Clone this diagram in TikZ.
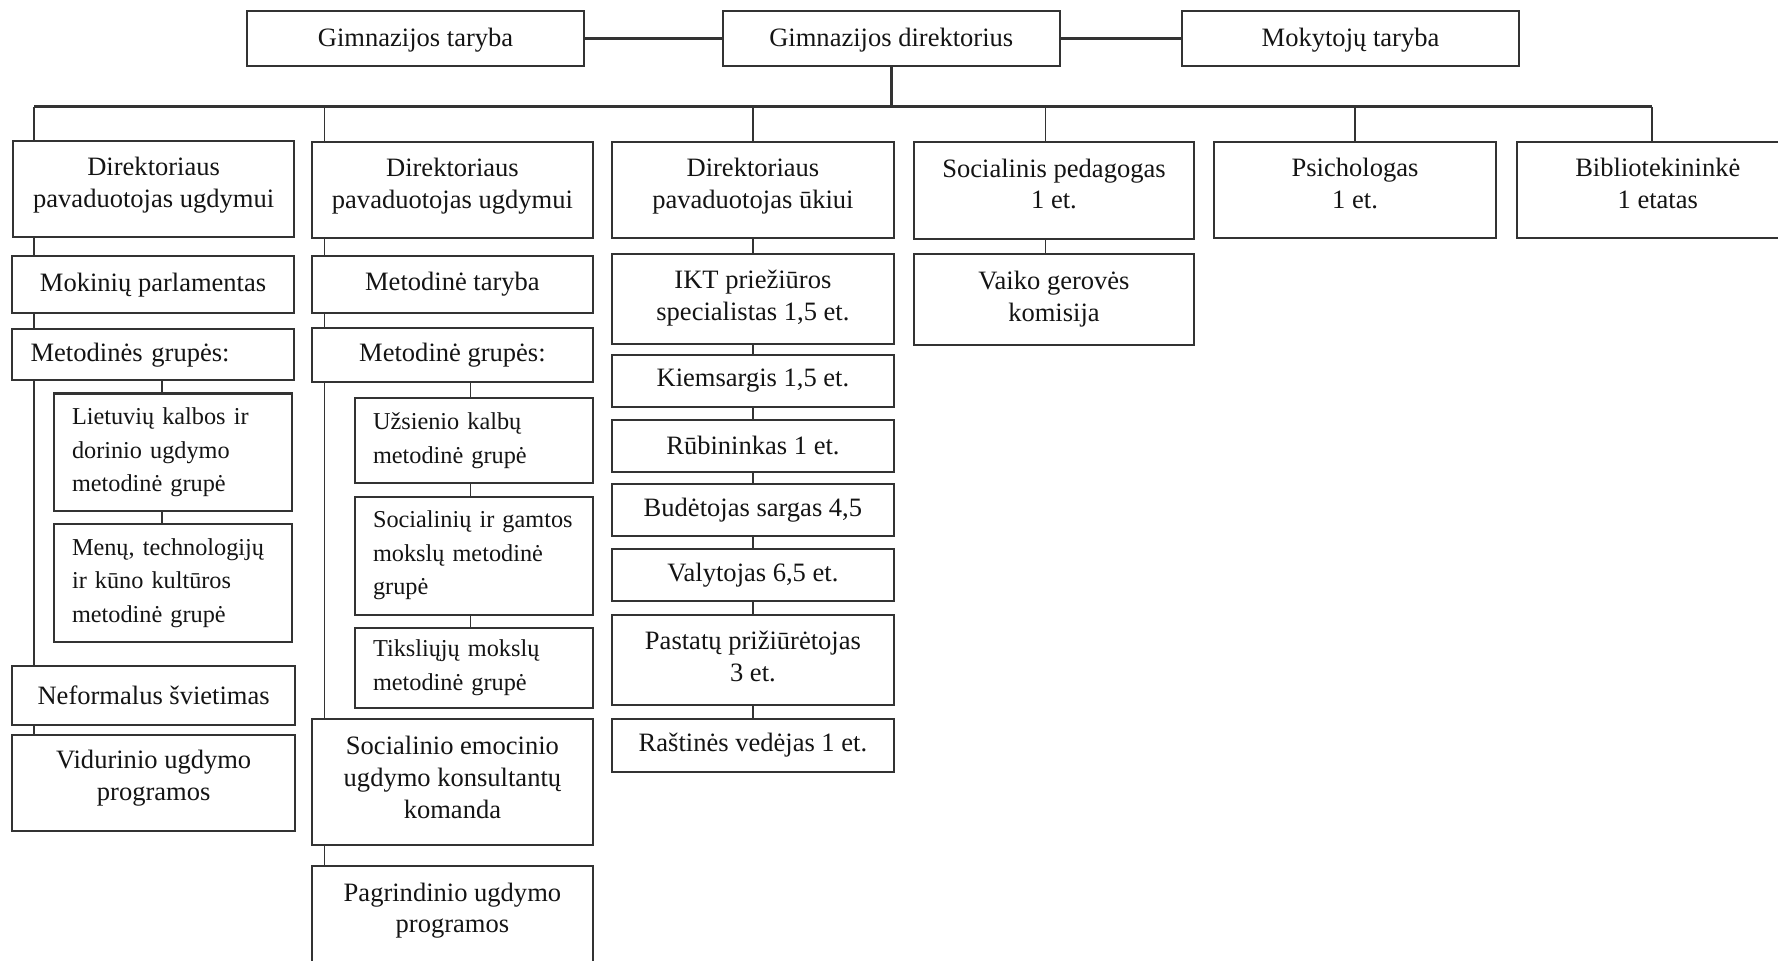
\documentclass[tikz,border=0pt]{standalone}
\usepackage{fontspec}
\setmainfont{Liberation Serif}
\definecolor{ln}{HTML}{333333}
\definecolor{tx}{HTML}{141414}
\begin{document}
\begin{tikzpicture}[x=0.5pt,y=-0.5pt,
  bx/.style={draw=ln, line width=0.9pt, fill=white, inner sep=0pt, align=center,
    text=tx, font=\fontsize{11.7}{14}\selectfont},
  hd/.style={bx, minimum width=124pt, minimum height=42.5pt, text depth=6pt},
  sb/.style={draw=ln, line width=0.9pt, fill=white, inner xsep=8pt, inner ysep=0pt,
    align=left, text=tx, text width=89pt, font=\fontsize{10.7}{14.75}\selectfont},
  cn/.style={draw=ln, line width=0.6pt},
  tk/.style={draw=ln, line width=1.6pt},
  busl/.style={draw=ln, line width=1.1pt}]
\clip (0,0) rectangle (1568,847);
\fill[white] (0,0) rectangle (1568,847);

% top row
\node[bx, minimum width=148.5pt, minimum height=24pt, text depth=1.5pt] (gt) at (366.5,34) {Gimnazijos taryba};
\node[bx, minimum width=148.5pt, minimum height=24pt, text depth=1.5pt] (gd) at (786,34) {Gimnazijos direktorius};
\node[bx, minimum width=148.5pt, minimum height=24pt, text depth=1.5pt] (mt) at (1191,34) {Mokytojų taryba};
\draw[tk] (gt.east) -- (gd.west);
\draw[tk] (gd.east) -- (mt.west);

% bus coordinates
\coordinate (b1) at (30,94);
\coordinate (b2) at (286,94);
\coordinate (b3) at (664,94);
\coordinate (b4) at (922,94);
\coordinate (b5) at (1195,94);
\coordinate (b6) at (1457,94);
\coordinate (s1) at (143,0);
\coordinate (s2) at (415,0);

% heads
\node[hd] (h1) at (135.5,166.5) {Direktoriaus\\pavaduotojas ugdymui};
\node[hd] (h2) at (399,167.5) {Direktoriaus\\pavaduotojas ugdymui};
\node[hd] (h3) at (664,167.5) {Direktoriaus\\pavaduotojas ūkiui};
\node[hd, minimum width=123.5pt, minimum height=43pt] (h4) at (929.5,168) {Socialinis pedagogas\\1 et.};
\node[hd] (h5) at (1195,167.5) {Psichologas\\1 et.};
\node[hd] (h6) at (1462,167.5) {Bibliotekininkė\\1 etatas};

\draw[busl] (gd.south) -- (gd.south |- b1);
\draw[busl] (b1) -- (b6);
\draw[cn] (b1) -- (h1.north -| b1);
\draw[cn] (b2) -- (h2.north -| b2);
\draw[cn] (b3) -- (h3.north -| b3);
\draw[cn] (b4) -- (h4.north -| b4);
\draw[cn] (b5) -- (h5.north -| b5);
\draw[cn] (b6) -- (h6.north -| b6);

% column 1
\node[bx, minimum width=124pt, minimum height=25pt] (mp) at (135,251) {Mokinių parlamentas};
\node[bx, minimum width=124pt, minimum height=22.5pt, inner xsep=8pt, text width=108pt, align=left, text depth=1.5pt] (mg) at (135,312.5) {Metodinės grupės:};
\node[sb, minimum height=52pt] (lk) at (152.5,399) {Lietuvių kalbos ir\\dorinio ugdymo\\metodinė grupė};
\node[sb, minimum height=52pt] (mn) at (152.5,514) {Menų, technologijų\\ir kūno kultūros\\metodinė grupė};
\node[bx, minimum width=124.5pt, minimum height=26pt] (nf) at (135.5,613) {Neformalus švietimas};
\node[bx, minimum width=124.5pt, minimum height=42.5pt, text depth=7pt] (vu) at (135.5,690.5) {Vidurinio ugdymo\\programos};
\draw[cn] (h1.south -| b1) -- (mp.north -| b1);
\draw[cn] (mp.south -| b1) -- (mg.north -| b1);
\draw[cn] (mg.south -| b1) -- (nf.north -| b1);
\draw[cn] (nf.south -| b1) -- (vu.north -| b1);
\draw[cn] (mg.south -| s1) -- (lk.north -| s1);
\draw[cn] (lk.south -| s1) -- (mn.north -| s1);

% column 2
\node[bx, minimum width=124pt, minimum height=25pt] (mtb) at (399,251) {Metodinė taryba};
\node[bx, minimum width=124pt, minimum height=24pt] (mg2) at (399,313) {Metodinė grupės:};
\node[sb, minimum height=37.5pt] (uk) at (418,388.5) {Užsienio kalbų\\metodinė grupė};
\node[sb, minimum height=52pt] (sg) at (418,490) {Socialinių ir gamtos\\mokslų metodinė\\grupė};
\node[sb, minimum height=35pt] (tm) at (418,589) {Tiksliųjų mokslų\\metodinė grupė};
\node[bx, minimum width=124pt, minimum height=55.5pt, text depth=4pt] (se) at (399,689.5) {Socialinio emocinio\\ugdymo konsultantų\\komanda};
\node[bx, minimum width=124pt, minimum height=48pt, text depth=11.5pt] (pu) at (399,812) {Pagrindinio ugdymo\\programos};
\draw[cn] (h2.south -| b2) -- (mtb.north -| b2);
\draw[cn] (mtb.south -| b2) -- (mg2.north -| b2);
\draw[cn] (mg2.south -| b2) -- (se.north -| b2);
\draw[cn] (se.south -| b2) -- (pu.north -| b2);
\draw[cn] (mg2.south -| s2) -- (uk.north -| s2);
\draw[cn] (uk.south -| s2) -- (sg.north -| s2);
\draw[cn] (sg.south -| s2) -- (tm.north -| s2);

% column 3
\node[bx, minimum width=124pt, minimum height=39.5pt, text depth=3pt] (ikt) at (664,263.5) {IKT priežiūros\\specialistas 1,5 et.};
\node[bx, minimum width=124pt, minimum height=23pt] (ki) at (664,336) {Kiemsargis 1,5 et.};
\node[bx, minimum width=124pt, minimum height=23pt] (ru) at (664,393) {Rūbininkas 1 et.};
\node[bx, minimum width=124pt, minimum height=23pt] (bu) at (664,450) {Budėtojas sargas 4,5};
\node[bx, minimum width=124pt, minimum height=23pt] (va) at (664,507) {Valytojas 6,5 et.};
\node[bx, minimum width=124pt, minimum height=40pt, text depth=3pt] (pa) at (664,582) {Pastatų prižiūrėtojas\\3 et.};
\node[bx, minimum width=124pt, minimum height=23.5pt] (ra) at (664,657.5) {Raštinės vedėjas 1 et.};
\draw[cn] (h3.south -| b3) -- (ikt.north -| b3);
\draw[cn] (ikt.south -| b3) -- (ki.north -| b3);
\draw[cn] (ki.south -| b3) -- (ru.north -| b3);
\draw[cn] (ru.south -| b3) -- (bu.north -| b3);
\draw[cn] (bu.south -| b3) -- (va.north -| b3);
\draw[cn] (va.south -| b3) -- (pa.north -| b3);
\draw[cn] (pa.south -| b3) -- (ra.north -| b3);

% column 4
\node[bx, minimum width=123.5pt, minimum height=40pt, text depth=2.5pt] (vg) at (929.5,264) {Vaiko gerovės\\komisija};
\draw[cn] (h4.south -| b4) -- (vg.north -| b4);
\end{tikzpicture}
\end{document}
